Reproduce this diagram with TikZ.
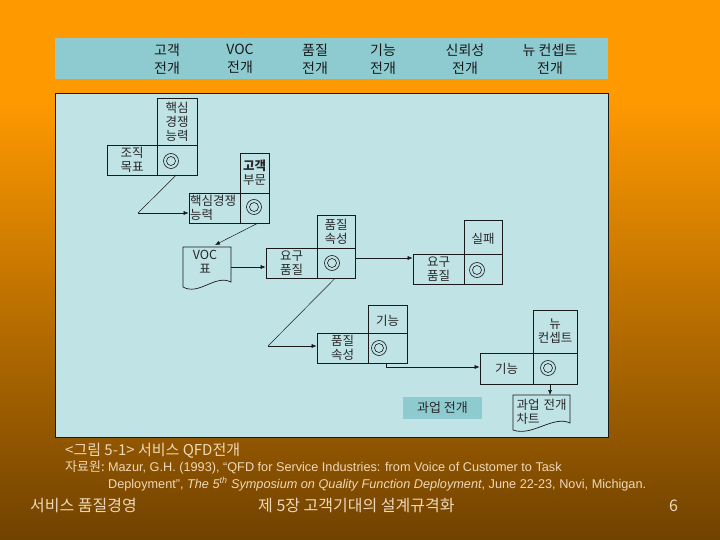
\documentclass[tikz,border=0pt]{standalone}
\usepackage{fontspec}
\setmainfont{Liberation Sans}
\newfontfamily\kr{Noto Sans CJK KR}
\usetikzlibrary{arrows.meta}
\definecolor{orangebg}{RGB}{255,153,0}
\definecolor{brownbg}{RGB}{112,66,0}
\definecolor{hdr}{RGB}{142,203,209}
\definecolor{panel}{RGB}{192,227,230}
\definecolor{ink}{RGB}{25,25,25}
\definecolor{txt}{RGB}{40,40,40}
\definecolor{captxt}{RGB}{238,216,186}
\begin{document}
\begin{tikzpicture}[x=1pt,y=-1pt,
  cell/.style={draw=ink, line width=0.7pt, inner sep=0pt, align=center, text=txt, font=\kr\fontsize{12.5}{14}\selectfont},
  ring/.style={circle, draw=ink, line width=0.6pt, minimum size=15pt, inner sep=0pt,
    path picture={\draw[ink, line width=0.6pt] (path picture bounding box.center) circle (4.5pt);}},
  conn/.style={draw=ink, line width=0.5pt},
  arr/.style={conn, -{Latex[length=5pt,width=4pt]}},
  hdrtxt/.style={font=\kr\fontsize{14}{18}\selectfont, text=ink, align=center, inner sep=0pt},
  doctxt/.style={inner sep=0pt, font=\kr\fontsize{12.5}{14}\selectfont, text=txt, align=left},
  captext/.style={inner sep=0pt, text=captxt, anchor=base west, font=\fontsize{12.7}{14}\selectfont},
  foot/.style={inner sep=0pt, text=captxt, anchor=base west, font=\kr\fontsize{16}{18}\selectfont},
]
\useasboundingbox (0,0) rectangle (720,540);
% background
\fill[orangebg] (0,0) rectangle (720,100.5);
\shade[top color=orangebg, bottom color=brownbg] (0,100) rectangle (720,540);

% header band
\fill[hdr] (55,38) rectangle (608,79);
\node[hdrtxt] (h1) at (167,59) {고객\\전개};
\node[hdrtxt] (h2) at (240,59) {VOC\\전개};
\node[hdrtxt] (h3) at (315,59) {품질\\전개};
\node[hdrtxt] (h4) at (383,59) {기능\\전개};
\node[hdrtxt] (h5) at (465,59) {신뢰성\\전개};
\node[hdrtxt] (h6) at (550,59) {뉴 컨셉트\\전개};

% panel
\draw[draw=ink, fill=panel, line width=0.8pt] (55,93) rectangle (608,437);

% L1
\node[cell, minimum width=40pt, minimum height=47pt] (l1t) at (177,121.5) {핵심\\경쟁\\능력};
\node[cell, minimum width=50pt, minimum height=30pt] (l1l) at (132,160) {조직\\목표};
\node[cell, minimum width=40pt, minimum height=30pt] (l1c) at (177,160) {};
\node[ring] (r1) at (171,161) {};

% L2
\node[cell, minimum width=29pt, minimum height=40pt] (l2t) at (254.5,173) {\bfseries 고객\\부문};
\node[cell, minimum width=51pt, minimum height=30pt, align=left, text width=49pt] (l2l) at (214.5,208) {핵심경쟁\\능력};
\node[cell, minimum width=29pt, minimum height=30pt] (l2c) at (254.5,208) {};
\node[ring] (r2) at (254,207) {};

% VOC document
\draw[ink, line width=0.7pt, fill=panel] (183,247) -- (231,247) -- (231,282)
  .. controls (215,274) and (199,296) .. (183,287) -- cycle;
\node[doctxt, align=center] (voc) at (205,262) {VOC\\표};

% L3
\node[cell, minimum width=38pt, minimum height=33pt] (l3t) at (336,231.5) {품질\\속성};
\node[cell, minimum width=51pt, minimum height=30pt] (l3l) at (291.5,263) {요구\\품질};
\node[cell, minimum width=38pt, minimum height=30pt] (l3c) at (336,263) {};
\node[ring] (r3) at (332,263) {};

% L4
\node[cell, minimum width=38pt, minimum height=34pt] (l4t) at (483,237) {\\실패};
\node[cell, minimum width=51pt, minimum height=30pt] (l4l) at (438.5,269) {요구\\품질};
\node[cell, minimum width=38pt, minimum height=30pt] (l4c) at (483,269) {};
\node[ring] (r4) at (477,270) {};

% L5
\node[cell, minimum width=39pt, minimum height=28pt] (l5t) at (387.5,319) {\\기능};
\node[cell, minimum width=51pt, minimum height=30pt] (l5l) at (342.5,348) {품질\\속성};
\node[cell, minimum width=39pt, minimum height=30pt] (l5c) at (387.5,348) {};
\node[ring] (r5) at (379,348) {};

% L6
\node[cell, minimum width=44pt, minimum height=43pt] (l6t) at (555,331.5) {뉴\\컨셉트};
\node[cell, minimum width=53pt, minimum height=31pt] (l6l) at (506.5,368.5) {기능};
\node[cell, minimum width=44pt, minimum height=31pt] (l6c) at (555,368.5) {};
\node[ring] (r6) at (548,368) {};

% chart document
\draw[ink, line width=0.7pt, fill=panel] (513,395) -- (570,395) -- (570,423)
  .. controls (553,415) and (532,437) .. (513,430) -- cycle;
\node[doctxt, text width=53pt] (chart) at (543,412) {과업 전개\\차트};

% task box
\node[fill=hdr, minimum width=79pt, minimum height=22pt, inner sep=0pt,
  font=\kr\fontsize{13}{15}\selectfont, text=txt] (task) at (442.5,408) {과업 전개};

% connectors
\coordinate (k1) at (138,213);
\draw[conn] ([xshift=-1pt]l1c.south) -- (k1);
\draw[arr] (k1) -- (k1 -| l2l.west);
\coordinate (vocin) at (215,245);
\draw[arr] ([xshift=3pt]l2c.south) -- (vocin);
\coordinate (vocout) at (231,267);
\draw[arr] (vocout) -- (vocout -| l3l.west);
\draw[arr] ([yshift=5pt]l3c.east) -- ([yshift=5pt]l3c.east -| l4l.west);
\coordinate (k5) at (268,346);
\draw[conn] ([xshift=-1pt]l3c.south) -- (k5);
\draw[arr] (k5) -- (k5 -| l5l.west);
\draw[arr] ([xshift=-1.5pt]l5c.south) |- ([yshift=1.5pt]l6l.west);
\coordinate (chin) at (550,395);
\draw[arr] (chin |- l6c.south) -- (chin);

% caption
\node[captext, font=\kr\fontsize{15}{17}\selectfont] (cap1) at (65,455) {<그림 5-1> 서비스 QFD전개};
\node[captext, font=\kr\fontsize{13}{15}\selectfont] (cap2a) at (65,471) {자료원:};
\node[captext, anchor=base west] (cap2) at ([xshift=3pt]cap2a.base east) {Mazur, G.H. (1993), “QFD for Service Industries: from Voice of Customer to Task};
\node[captext] (cap3) at (cap2.base west |- 0,488) {Deployment”, \textit{The 5\textsuperscript{th} Symposium on Quality Function Deployment}, June 22-23, Novi, Michigan.};

% footer
\node[foot] (f1) at (30,511) {서비스 품질경영};
\node[foot] (f2) at (258,511) {제 5장 고객기대의 설계규격화};
\node[foot] (f3) at (669,511) {6};
\end{tikzpicture}
\end{document}
